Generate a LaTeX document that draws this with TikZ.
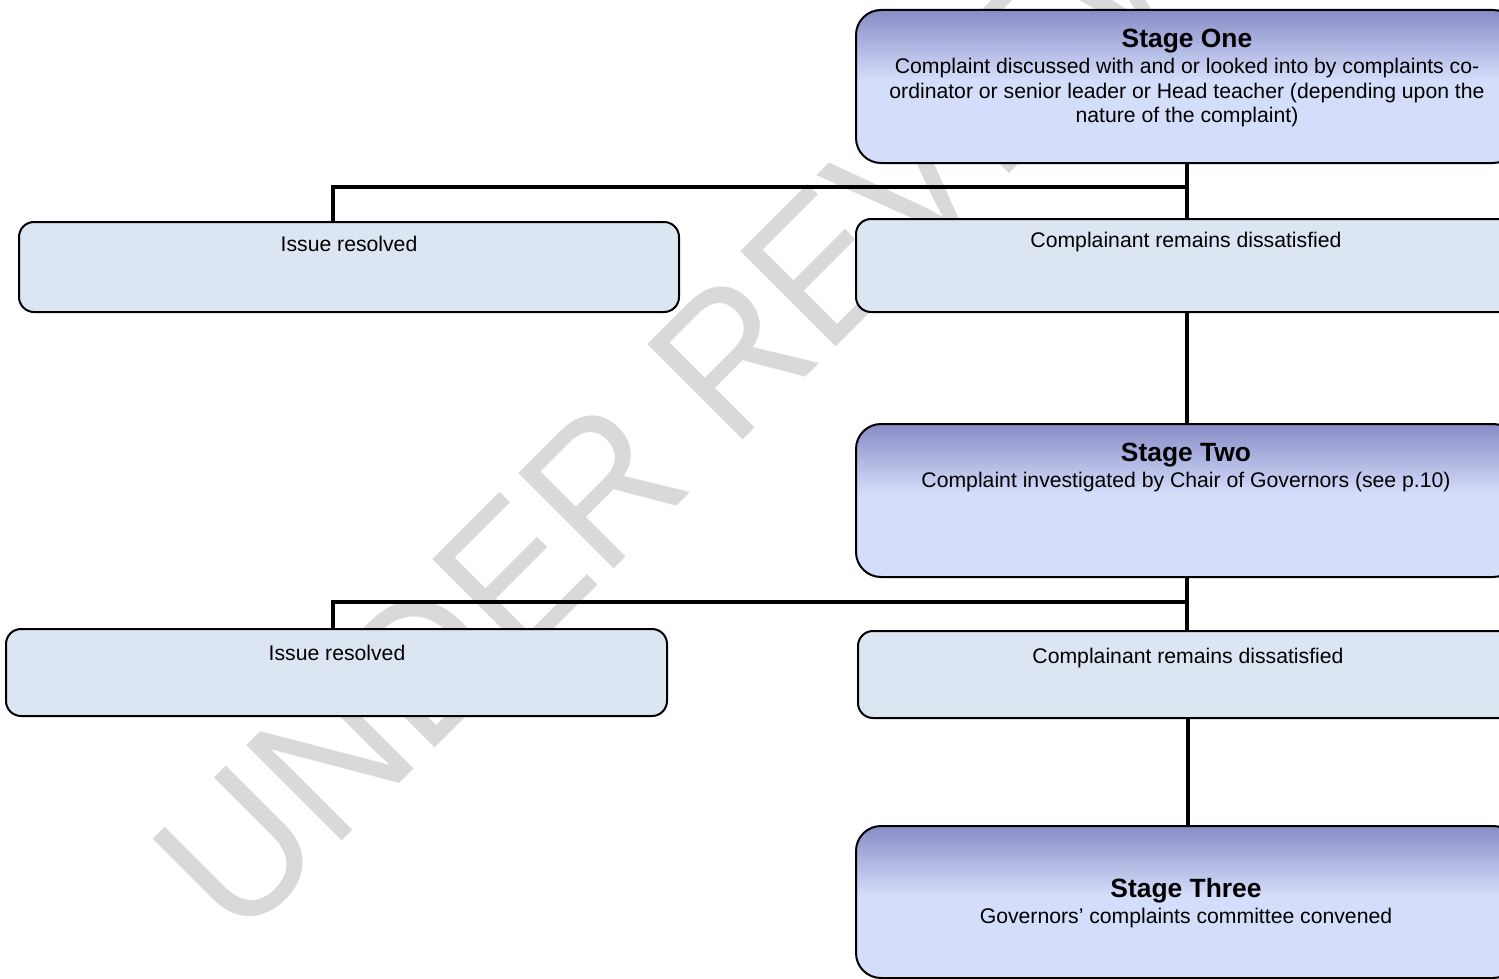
\documentclass[tikz,border=0pt]{standalone}
\usepackage{fontspec}
\setmainfont{Liberation Sans}
\definecolor{lightfill}{RGB}{220,230,242}
\definecolor{stagetop}{RGB}{136,140,199}
\definecolor{stagelight}{RGB}{212,222,250}
\definecolor{wmgray}{RGB}{217,217,217}
\pgfdeclareverticalshading{stageshade}{100bp}{color(0bp)=(stagelight); color(25bp)=(stagelight); color(52bp)=(stagelight); color(75bp)=(stagetop); color(100bp)=(stagetop)}
\begin{document}
\begin{tikzpicture}[x=0.5pt,y=-0.5pt,line join=miter,
  stagebox/.style={draw=black, line width=1pt, rounded corners=12.5pt, shading=stageshade, minimum width=331pt, minimum height=76.5pt, inner sep=0pt},
  plainbox/.style={draw=black, line width=1pt, rounded corners=7.5pt, fill=lightfill, inner sep=0pt},
  titletext/.style={font=\fontsize{13.2}{15}\selectfont\bfseries, inner sep=0pt, anchor=base},
  bodytext/.style={font=\fontsize{10.6}{12.25}\selectfont, align=center, inner sep=0pt, anchor=base},
  conn/.style={line width=2.25pt, draw=black}]
\clip (0,0) rectangle (1499,979);
% watermark
\node[font=\fontsize{98}{98}\selectfont, text=wmgray, rotate=45, anchor=base west, inner sep=0pt] (wmk) at (238,945) {\scalebox{0.93}[1]{UNDER REVIEW}};
% boxes
\node[stagebox] (s1) at (1187,86.5) {};
\node[plainbox, minimum width=330pt, minimum height=45pt] (ir1) at (349,267) {};
\node[plainbox, minimum width=331pt, minimum height=46.5pt] (cd1) at (1187,265.5) {};
\node[stagebox] (s2) at (1187,500.5) {};
\node[plainbox, minimum width=330.5pt, minimum height=43.5pt] (ir2) at (336.5,672.5) {};
\node[plainbox, minimum width=330pt, minimum height=43.5pt] (cd2) at (1188,674.5) {};
\node[stagebox, minimum height=76pt] (s3) at (1187,902) {};
% texts
\node[titletext] (s1t) at (1187,47.5) {Stage One};
\node[bodytext] (s1b) at (1187,122.5) {Complaint discussed with and or looked into by complaints co-\\ordinator or senior leader or Head teacher (depending upon the\\nature of the complaint)};
\node[bodytext] (ir1t) at (349,251.5) {Issue resolved};
\node[bodytext] (cd1t) at (1186,247.5) {Complainant remains dissatisfied};
\node[titletext] (s2t) at (1186,461.5) {Stage Two};
\node[bodytext] (s2b) at (1186,487.5) {Complaint investigated by Chair of Governors (see p.10)};
\node[bodytext] (ir2t) at (337,660.5) {Issue resolved};
\node[bodytext] (cd2t) at (1188,663.5) {Complainant remains dissatisfied};
\node[titletext] (s3t) at (1186,897.5) {Stage Three};
\node[bodytext] (s3b) at (1186,923.5) {Governors’ complaints committee convened};
% connectors
\coordinate (j1) at (333,187);
\coordinate (j2) at (333,602);
\draw[conn] (s1.south) -- (cd1.north);
\draw[conn] (j1 -| s1.south) -- (j1) -- (j1 |- ir1.north);
\draw[conn] (cd1.south) -- (s2.north);
\draw[conn] (s2.south) -- (s2.south |- cd2.north);
\draw[conn] (j2 -| s2.south) -- (j2) -- (j2 |- ir2.north);
\draw[conn] (cd2.south) -- (cd2.south |- s3.north);
\end{tikzpicture}
\end{document}
